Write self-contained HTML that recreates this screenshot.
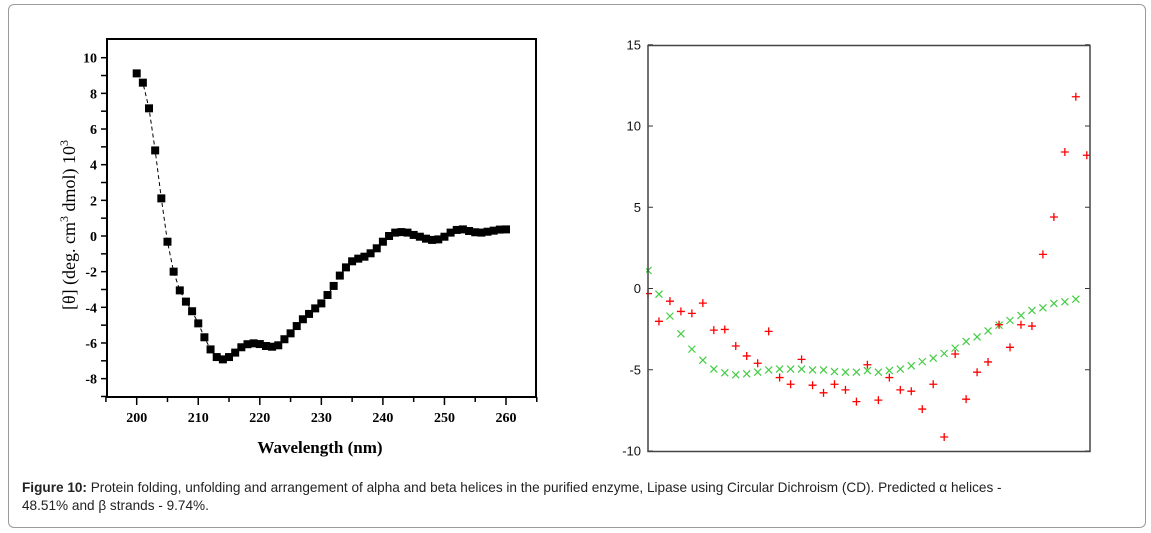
<!DOCTYPE html>
<html><head><meta charset="utf-8"><style>
body{margin:0;width:1151px;height:533px;background:#fff;overflow:hidden;position:relative;font-family:"Liberation Sans",sans-serif}
#frame{position:absolute;left:8px;top:4px;width:1136px;height:522px;border:1px solid #9a9a9a;border-radius:6px}
#cap{position:absolute;left:22px;top:479px;font-size:13.6px;line-height:18px;color:#222;width:1125px}
svg{position:absolute;left:0;top:0}
</style></head><body>
<div id="frame"></div>
<svg id="s" width="1151" height="533"></svg>
<div id="cap"><b>Figure 10:</b> Protein folding, unfolding and arrangement of alpha and beta helices in the purified enzyme, Lipase using Circular Dichroism (CD). Predicted α helices -<br>48.51% and β strands - 9.74%.</div>
<script>
// Left chart data
const wavelengths=[];for(let w=200;w<=260;w++)wavelengths.push(w);
const ellipticity=[9.12,8.60,7.16,4.80,2.11,-0.32,-2.0,-3.05,-3.68,-4.22,-4.90,-5.68,-6.36,-6.79,-6.92,-6.79,-6.54,-6.24,-6.07,-6.02,-6.06,-6.17,-6.21,-6.13,-5.79,-5.46,-5.05,-4.67,-4.37,-4.06,-3.78,-3.31,-2.80,-2.22,-1.76,-1.42,-1.27,-1.16,-0.97,-0.69,-0.32,0,0.19,0.22,0.19,0.06,-0.04,-0.15,-0.22,-0.19,-0.04,0.19,0.34,0.37,0.28,0.21,0.19,0.24,0.30,0.36,0.37];
const leftYTicks=[10,8,6,4,2,0,-2,-4,-6,-8];
const leftXTicks=[200,210,220,230,240,250,260];
// Right chart data
const predicted=[1.11,-0.35,-1.70,-2.79,-3.73,-4.41,-4.96,-5.19,-5.31,-5.25,-5.15,-5.01,-4.96,-4.96,-4.96,-5.01,-5.01,-5.11,-5.15,-5.15,-5.05,-5.15,-5.05,-4.96,-4.76,-4.50,-4.29,-4.00,-3.67,-3.26,-2.98,-2.61,-2.26,-1.97,-1.66,-1.35,-1.19,-0.92,-0.82,-0.66];
const measured=[-0.31,-2.02,-0.78,-1.41,-1.53,-0.90,-2.56,-2.52,-3.54,-4.15,-4.60,-2.64,-5.48,-5.89,-4.36,-5.95,-6.42,-5.89,-6.24,-6.96,-4.69,-6.87,-5.48,-6.24,-6.32,-7.42,-5.89,-9.14,-4.03,-6.81,-5.15,-4.52,-2.23,-3.62,-2.23,-2.31,2.1,4.4,8.4,11.8,8.2];
const rightYTicks=[15,10,5,0,-5,-10];

const NS="http://www.w3.org/2000/svg",s=document.getElementById('s');
function mk(t,a,p){const e=document.createElementNS(NS,t);for(const k in a)e.setAttribute(k,a[k]);(p||s).appendChild(e);return e;}

// Left axes
const lx=w=>136.7+(w-200)*6.155, ly=v=>236-v*17.83;
const L=mk('g',{});


const lf=mk('rect',{x:107,y:39,width:429,height:358,fill:'none',stroke:'#000','stroke-width':2},L);


for(let v=-9;v<=10;v++){mk('line',{x1:101,x2:107,y1:ly(v),y2:ly(v),stroke:'#000','stroke-width':1.5},L);}
leftYTicks.forEach(v=>{const t=mk('text',{x:97,y:ly(v)+5,'text-anchor':'end','font-family':'Liberation Serif,serif','font-weight':'bold','font-size':14},L);t.textContent=v;

});
for(let w=195;w<=265;w+=5){mk('line',{x1:lx(w),x2:lx(w),y1:397,y2:w%10==0?405:402,stroke:'#000','stroke-width':1.5},L);}
leftXTicks.forEach(w=>{const t=mk('text',{x:lx(w),y:422,'text-anchor':'middle','font-family':'Liberation Serif,serif','font-weight':'bold','font-size':14},L);t.textContent=w;

});
const xt=mk('text',{x:320,y:453,'text-anchor':'middle','font-family':'Liberation Serif,serif','font-weight':'bold','font-size':17},L);xt.textContent='Wavelength (nm)';


const yt=mk('text',{transform:'translate(75,225) rotate(-90)','text-anchor':'middle','font-family':'Liberation Serif,serif','font-size':18},L);
yt.innerHTML='[θ] (deg. cm<tspan dy="-7" font-size="12">3</tspan><tspan dy="7"> dmol) 10</tspan><tspan dy="-7" font-size="12">3</tspan>';


mk('polyline',{points:wavelengths.map((w,i)=>lx(w)+','+ly(ellipticity[i])).join(' '),fill:'none',stroke:'#000','stroke-width':1,'stroke-dasharray':'4,3'},L);
wavelengths.forEach((w,i)=>{const r=mk('rect',{x:lx(w)-4,y:ly(ellipticity[i])-4,width:8,height:8,fill:'#000'},L);

});

// Right chart
const rx=i=>648+i*10.97, ry=v=>288.5-v*16.25;
const R=mk('g',{});


mk('clipPath',{id:'rc'},R);mk('rect',{x:646,y:44,width:444,height:408},document.getElementById('rc'));
rightYTicks.forEach(v=>{mk('line',{x1:648,x2:653,y1:ry(v),y2:ry(v),stroke:'#333'},R);mk('line',{x1:1085,x2:1090,y1:ry(v),y2:ry(v),stroke:'#333'},R);
const t=mk('text',{x:641,y:ry(v)+4.5,'text-anchor':'end','font-size':13,fill:'#111'},R);t.textContent=v;

});
const g=mk('g',{'clip-path':'url(#rc)'},R);
predicted.forEach((v,i)=>{const x=rx(i),y=ry(v);const p=mk('path',{d:`M${x-3.5} ${y-3.5}L${x+3.5} ${y+3.5}M${x+3.5} ${y-3.5}L${x-3.5} ${y+3.5}`,stroke:'#44cc44','stroke-width':1.2},g);

});
measured.forEach((v,i)=>{const x=rx(i),y=ry(v);const p=mk('path',{d:`M${x-4} ${y}L${x+4} ${y}M${x} ${y-4}L${x} ${y+4}`,stroke:'#ff0000','stroke-width':1.3},g);

});
const rf=mk('rect',{x:648,y:45.5,width:442,height:406,fill:'none',stroke:'#444','stroke-width':1.5},R);


</script>
</body></html>
